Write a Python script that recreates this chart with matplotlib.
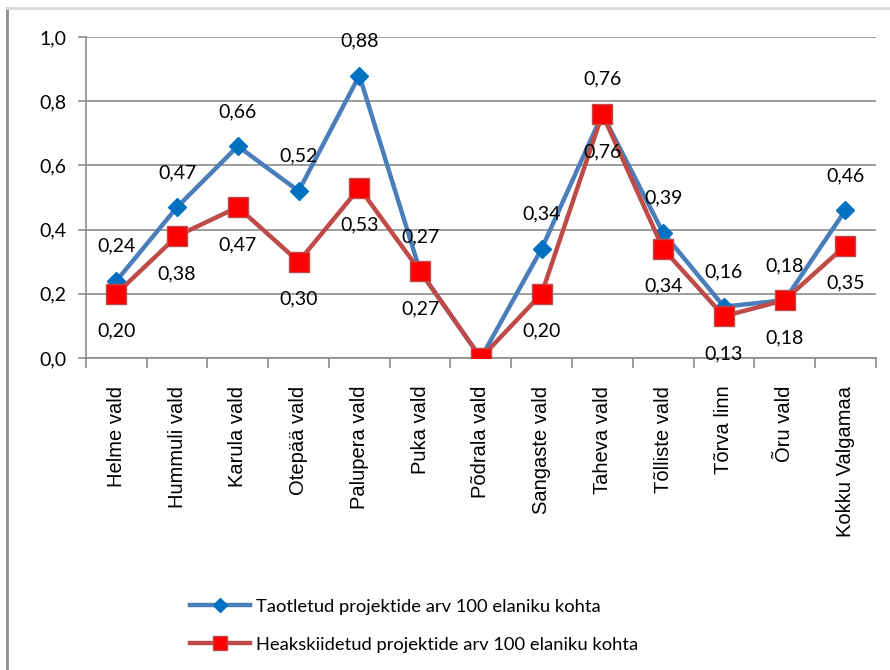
import matplotlib.pyplot as plt
from matplotlib.lines import Line2D

# andmed
vallad = ["Helme vald", "Hummuli vald", "Karula vald", "Otepää vald", "Palupera vald",
          "Puka vald", "Põdrala vald", "Sangaste vald", "Taheva vald", "Tõlliste vald",
          "Tõrva linn", "Õru vald", "Kokku Valgamaa"]
taotletud = [0.24, 0.47, 0.66, 0.52, 0.88, 0.27, 0.00, 0.34, 0.76, 0.39, 0.16, 0.18, 0.46]
heaks = [0.20, 0.38, 0.47, 0.30, 0.53, 0.27, 0.00, 0.20, 0.76, 0.34, 0.13, 0.18, 0.35]
y_ticks = [0.0, 0.2, 0.4, 0.6, 0.8, 1.0]
nimed = ["Taotletud projektide arv 100 elaniku kohta",
         "Heakskiidetud projektide arv 100 elaniku kohta"]

font = "Lato"
blue, blue_m = "#4A7EBB", "#0070C0"
red, red_m = "#BE4B48", "#FF0000"

fig = plt.figure(figsize=(8.9, 6.7), dpi=100)
ax = fig.add_axes([0.0966, 0.4657, 0.8874, 0.4791])

x = list(range(len(vallad)))
ax.plot(x, taotletud, color=blue, lw=3.2, marker="D", ms=9,
        mfc=blue_m, mec=blue_m, zorder=3)
ax.plot(x, heaks, color=red, lw=3.2, marker="s", ms=14,
        mfc=red_m, mec=red, mew=1, zorder=4)

for i in x:
    if taotletud[i] == 0:
        continue
    ax.annotate(f"{taotletud[i]:.2f}".replace(".", ","), (i, taotletud[i]),
                xytext=(0, 25), textcoords="offset points", ha="center", va="center",
                fontsize=14, family=font, zorder=5)
    ax.annotate(f"{heaks[i]:.2f}".replace(".", ","), (i, heaks[i]),
                xytext=(0, -27), textcoords="offset points", ha="center", va="center",
                fontsize=14, family=font, zorder=5)

ax.set_xlim(-0.5, len(vallad) - 0.5)
ax.set_ylim(0, 1.0)
ax.set_yticks(y_ticks)
ax.set_yticklabels([f"{v:.1f}".replace(".", ",") for v in y_ticks], family=font, fontsize=14)
ax.grid(axis="y", color="#8C8C8C", lw=1.2)
ax.set_axisbelow(True)

ax.set_xticks([i - 0.5 for i in range(len(vallad) + 1)], minor=False)
ax.set_xticklabels([])
ax.set_xticks(x, minor=True)
ax.set_xticklabels(vallad, minor=True, rotation=90, family="Liberation Sans", fontsize=14.5)
ax.tick_params(axis="x", which="minor", length=0, pad=20)
ax.tick_params(axis="x", which="major", length=7, color="#8C8C8C", width=1.2)
ax.tick_params(axis="y", length=6, color="#8C8C8C", width=1.2, pad=8)

for s in ["top", "right"]:
    ax.spines[s].set_visible(False)
for s in ["left", "bottom"]:
    ax.spines[s].set_color("#8C8C8C")
    ax.spines[s].set_linewidth(1.2)

handles = [Line2D([], [], color=blue, lw=3.2, marker="D", ms=7, mfc=blue_m, mec=blue_m),
           Line2D([], [], color=red, lw=3.2, marker="s", ms=10, mfc=red_m, mec=red)]
fig.legend(handles, nimed, loc="center left", bbox_to_anchor=(0.205, 0.066), frameon=False,
           prop={"family": font, "size": 13.2}, handlelength=3.3, handletextpad=0.3,
           labelspacing=1.2, borderaxespad=0)

# raam
fig.add_artist(Line2D([0.008, 0.008], [0, 0.988], color="#8C8C8C", lw=2, transform=fig.transFigure))
fig.add_artist(Line2D([0.008, 1.0], [0.988, 0.988], color="#D9D9D9", lw=2, transform=fig.transFigure))

fig.savefig("out.png", dpi=100)
